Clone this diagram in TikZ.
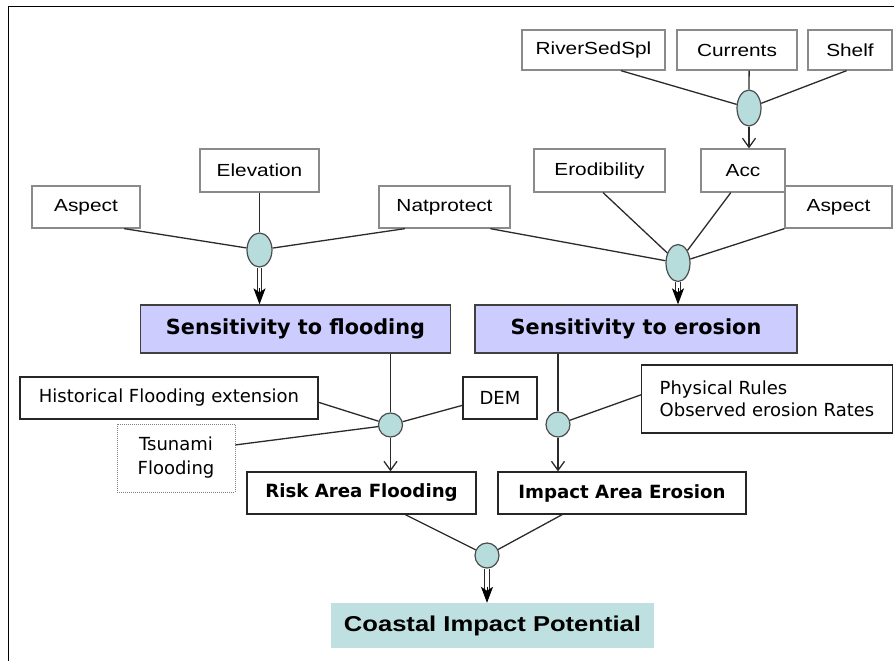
\documentclass[tikz,border=0pt]{standalone}
\usepackage{fontspec}
\usetikzlibrary{shapes.geometric,arrows.meta,calc}
\newfontfamily\lab[FakeStretch=1.19]{Liberation Sans}
\newfontfamily\dv{DejaVu Sans}
\definecolor{lineg}{HTML}{2A2A2A}
\definecolor{boxg}{HTML}{8A8A8A}
\definecolor{lav}{HTML}{CCCCFF}
\definecolor{teal1}{HTML}{BFE0E0}
\definecolor{junc}{HTML}{B7DCDC}
\tikzset{
  ubox/.style={draw=boxg, line width=1.3pt, fill=white, inner sep=0pt, font=\lab\fontsize{17.5}{21}\selectfont},
  lbox/.style={draw=black!85, line width=1.2pt, fill=white, inner sep=0pt, font=\dv\fontsize{18}{22}\selectfont},
  sens/.style={draw=black!75, line width=1.3pt, fill=lav, inner sep=0pt, font=\dv\bfseries\fontsize{20.8}{25}\selectfont},
  res/.style={draw=black!85, line width=1.2pt, fill=white, inner sep=0pt, font=\dv\bfseries\fontsize{18.2}{22}\selectfont},
  coast/.style={fill=teal1, inner sep=0pt, font=\lab\bfseries\fontsize{21.5}{26}\selectfont},
  jn/.style={ellipse, draw=black!70, line width=1.2pt, fill=junc, inner sep=0pt},
  conn/.style={draw=lineg, line width=1.3pt},
  barb/.style={conn, -{Straight Barb[length=9pt,width=13pt,line width=1.3pt]}},
  dbl/.style={draw=lineg, line width=1.1pt, double=white, double distance=3.2pt, shorten >=12pt},
  dtip/.style={draw=black, fill=black, line width=0.8pt, -{Stealth[length=16pt,width=12pt,inset=4pt]}},
}
\begin{document}
\begin{tikzpicture}[x=1pt,y=-1pt]
\useasboundingbox (0,0) rectangle (894,661);
\draw[line width=1.5pt] (8.5,661) -- (8.5,6.5) -- (894,6.5);

% top row
\node[ubox, minimum width=143, minimum height=40] (river) at (593.5,50) {RiverSedSpl};
\node[ubox, minimum width=120, minimum height=40] (curr) at (737,50) {Currents};
\node[ubox, minimum width=84, minimum height=40] (shelf) at (850,50) {Shelf};
\node[jn, minimum width=24, minimum height=36] (etop) at (749,108) {};

% second row
\node[ubox, minimum width=119, minimum height=43] (elev) at (259.5,170.5) {Elevation};
\node[ubox, minimum width=131, minimum height=43] (erod) at (599.5,170.5) {Erodibility};
\node[ubox, minimum width=84, minimum height=43] (acc) at (743,170.5) {Acc};
\node[ubox, minimum width=108, minimum height=42] (asp1) at (86,207) {Aspect};
\node[ubox, minimum width=131, minimum height=42] (nat) at (444.5,207) {Natprotect};
\node[ubox, minimum width=107, minimum height=42] (asp2) at (838.5,207) {Aspect};

\node[jn, minimum width=25, minimum height=34] (e1) at (259.5,250) {};
\node[jn, minimum width=24, minimum height=37] (e2) at (678,263) {};

% sensitivity
\node[sens, minimum width=310, minimum height=48] (sf) at (295.5,329) {Sensitivity to flooding};
\node[sens, minimum width=322, minimum height=48] (se) at (636,329) {Sensitivity to erosion};

% third level
\node[lbox, minimum width=298, minimum height=42] (hist) at (169,398) {Historical Flooding extension};
\node[lbox, minimum width=74, minimum height=42] (dem) at (500,398) {DEM};
\node[draw=black!50, line width=0.8pt, dash pattern=on 1pt off 1pt, fill=white, minimum width=118, minimum height=68, inner sep=0pt, align=center, font=\dv\fontsize{18}{24}\selectfont] (tsu) at (176,458) {Tsunami\\Flooding};
\node[lbox, minimum width=251, minimum height=68, align=left] (phys) at (767,399) {Physical Rules\\Observed erosion Rates};

\node[jn, minimum width=24, minimum height=24] (c1) at (390.5,425) {};
\node[jn, minimum width=24, minimum height=25] (c2) at (558,424.5) {};

\node[res, minimum width=229, minimum height=42] (risk) at (361.5,493) {Risk Area Flooding};
\node[res, minimum width=248, minimum height=42] (imp) at (622,493) {Impact Area Erosion};

\node[jn, minimum width=24, minimum height=25] (c3) at (487,555.5) {};
\node[coast, minimum width=323, minimum height=45] (cip) at (492.5,625.5) {Coastal Impact Potential};

% connectors top
\draw[conn] ($(river.south west)!0.69!(river.south east)$) -- (etop);
\draw[conn] ($(curr.south west)!0.6!(curr.south east)$) -- (etop.north);
\draw[conn] ($(shelf.south west)!0.46!(shelf.south east)$) -- (etop);
\draw[barb] (etop.south) -- (etop.south |- acc.north);

% flooding junction
\draw[conn] ($(asp1.south west)!0.85!(asp1.south east)$) -- (e1);
\draw[conn] (elev.south) -- (e1.north);
\draw[conn] ($(nat.south west)!0.2!(nat.south east)$) -- (e1);
\draw[dbl] (e1.south) -- (e1.south |- sf.north);
\draw[dtip] ([yshift=16pt]e1.south |- sf.north) -- (e1.south |- sf.north);

% erosion junction
\draw[conn] ($(nat.south west)!0.847!(nat.south east)$) -- (e2);
\draw[conn] ($(erod.south west)!0.527!(erod.south east)$) -- (e2);
\draw[conn] ($(acc.south west)!0.357!(acc.south east)$) -- (e2);
\draw[conn] (asp2.south west) -- (e2);
\draw[dbl] (e2.south) -- (e2.south |- se.north);
\draw[dtip] ([yshift=16pt]e2.south |- se.north) -- (e2.south |- se.north);

% third level
\draw[conn] (sf.south -| c1) -- (c1.north);
\draw[conn] ($(hist.south east)!0.4!(hist.north east)$) -- (c1);
\draw[conn] ($(dem.south west)!0.33!(dem.north west)$) -- (c1);
\draw[conn] ($(tsu.north east)!0.31!(tsu.south east)$) -- (c1);
\draw[barb] (c1.south) -- (c1.south |- risk.north);

\draw[conn] (se.south -| c2) -- (c2.north);
\draw[conn] ($(phys.north west)!0.44!(phys.south west)$) -- (c2);
\draw[barb] (c2.south) -- (c2.south |- imp.north);

% bottom
\draw[conn] ($(risk.south west)!0.69!(risk.south east)$) -- (c3);
\draw[conn] ($(imp.south west)!0.26!(imp.south east)$) -- (c3);
\draw[dbl] (c3.south) -- (c3.south |- cip.north);
\draw[dtip] ([yshift=16pt]c3.south |- cip.north) -- (c3.south |- cip.north);
\end{tikzpicture}
\end{document}
